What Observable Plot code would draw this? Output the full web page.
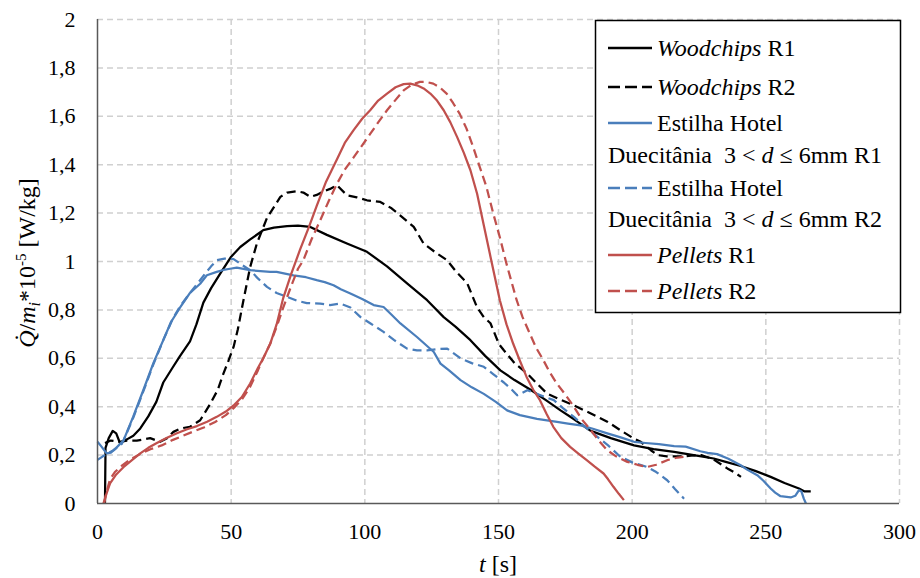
<!DOCTYPE html>
<html>
<head>
<meta charset="utf-8">
<script src="https://cdn.jsdelivr.net/npm/d3@7"></script>
<script src="https://cdn.jsdelivr.net/npm/@observablehq/plot@0.6"></script>
<style>
  html, body { margin: 0; padding: 0; background: #fff; }
  #chart { width: 920px; height: 578px; }
</style>
</head>
<body>
<div id="chart"></div>
<script>
// ---- tick values ----
const xTicks = [0, 50, 100, 150, 200, 250, 300];
const yTicks = [0, 0.2, 0.4, 0.6, 0.8, 1, 1.2, 1.4, 1.6, 1.8, 2];

// ---- Woodchips R1 ----
const wcR1_t = [2.8, 3.0, 4.2, 5.7, 7.0, 8.4, 11, 13.4, 16, 19, 22, 24.6, 28, 30.9, 34.6, 37, 39.6, 42.5, 45.9, 50, 53.4, 57, 62, 66, 70.9, 75, 79.6, 85.8, 93.3, 100.8, 108.3, 115.8, 123.3, 129.5, 134, 139.5, 145, 150.7, 156, 162, 168, 173.2, 178, 184.5, 192, 200.7, 208, 215.7, 223, 230.5, 235, 240.6, 246, 251.8, 257, 262.4, 264.5, 266.8];
const wcR1_v = [0, 0.23, 0.27, 0.30, 0.29, 0.25, 0.265, 0.28, 0.31, 0.36, 0.42, 0.50, 0.56, 0.61, 0.67, 0.74, 0.83, 0.89, 0.95, 1.02, 1.06, 1.09, 1.13, 1.14, 1.146, 1.148, 1.143, 1.11, 1.074, 1.04, 0.98, 0.91, 0.84, 0.77, 0.73, 0.675, 0.61, 0.55, 0.51, 0.47, 0.425, 0.385, 0.35, 0.30, 0.27, 0.24, 0.225, 0.213, 0.2, 0.186, 0.172, 0.155, 0.135, 0.11, 0.085, 0.062, 0.05, 0.05];

// ---- Woodchips R2 ----
const wcR2_t = [2.8, 5, 8.4, 11, 14.7, 19.7, 23.4, 26, 28.4, 31, 34.6, 38.4, 42.1, 45, 47.1, 49, 50.9, 52.5, 54.6, 57.1, 59.6, 63.4, 68.4, 71, 74.6, 77, 79.6, 82, 84.6, 87, 89.6, 93.3, 97, 100.8, 105.8, 110, 113.3, 118.3, 122, 127, 130.8, 134, 138.3, 142, 144.5, 147, 150.1, 152, 156, 160.8, 164, 168.2, 173, 178.2, 184, 190.7, 196, 200.7, 203.2, 207, 209.5, 213, 215.7, 219.3, 222, 225.8, 230, 235.6, 238, 240.7];
const wcR2_v = [0.25, 0.26, 0.255, 0.26, 0.26, 0.27, 0.255, 0.27, 0.296, 0.31, 0.317, 0.344, 0.41, 0.47, 0.537, 0.59, 0.647, 0.72, 0.84, 0.977, 1.074, 1.18, 1.267, 1.285, 1.29, 1.285, 1.267, 1.275, 1.29, 1.30, 1.315, 1.274, 1.265, 1.253, 1.246, 1.22, 1.19, 1.143, 1.074, 1.033, 1.005, 0.96, 0.91, 0.81, 0.77, 0.745, 0.66, 0.633, 0.58, 0.536, 0.50, 0.454, 0.43, 0.405, 0.375, 0.338, 0.30, 0.268, 0.255, 0.22, 0.20, 0.195, 0.195, 0.195, 0.198, 0.2, 0.185, 0.145, 0.13, 0.11];

// ---- Estilha Hotel Duecitânia R1 ----
const ehR1_t = [0, 1.5, 3.4, 5, 7, 9.7, 13.4, 17.2, 20.9, 24.6, 27.5, 30.9, 34.6, 38.4, 40.9, 44.6, 47.1, 49.6, 52.1, 57.1, 64.6, 67, 73.3, 78, 82, 85, 88.3, 91, 94.6, 99, 103.3, 107, 110, 113.3, 119.5, 125.8, 128.3, 131.5, 135.8, 140, 144.5, 149, 153.2, 158, 164.4, 171.9, 176, 180.7, 185, 190.7, 196, 200.7, 205, 210, 215.7, 220, 225.5, 228.2, 231.8, 236, 240.6, 243, 246.8, 249, 251.8, 253.5, 255.5, 259.3, 261, 262.4, 263.3, 264.2, 265];
const ehR1_v = [0.255, 0.235, 0.207, 0.21, 0.23, 0.26, 0.36, 0.47, 0.58, 0.675, 0.75, 0.81, 0.87, 0.908, 0.943, 0.957, 0.965, 0.97, 0.975, 0.964, 0.957, 0.957, 0.943, 0.935, 0.923, 0.915, 0.902, 0.885, 0.868, 0.845, 0.82, 0.812, 0.78, 0.744, 0.688, 0.626, 0.578, 0.55, 0.51, 0.48, 0.453, 0.42, 0.385, 0.365, 0.35, 0.337, 0.33, 0.323, 0.31, 0.29, 0.272, 0.255, 0.25, 0.245, 0.237, 0.235, 0.216, 0.209, 0.204, 0.185, 0.158, 0.14, 0.117, 0.095, 0.062, 0.045, 0.03, 0.025, 0.032, 0.055, 0.05, 0.02, 0];

// ---- Estilha Hotel Duecitânia R2 ----
const ehR2_t = [0, 2, 3.8, 6, 9, 9.7, 13.4, 17.2, 20.9, 24.6, 28, 30.9, 34.6, 37.5, 40.3, 42.5, 44.6, 47.5, 50.9, 53.5, 57.1, 60, 63.4, 67, 70.9, 74.6, 78.3, 83.3, 87, 90.8, 94.6, 98.3, 102, 107, 111, 115.8, 119.5, 123.3, 127, 130.8, 135.8, 140, 144.5, 148, 152, 155, 157, 160.8, 165, 170.7, 174, 178.2, 182, 187, 191, 195.6, 200, 205.6, 209, 213.1, 216, 219.4];
const ehR2_v = [0.18, 0.195, 0.207, 0.22, 0.245, 0.26, 0.355, 0.465, 0.575, 0.675, 0.76, 0.815, 0.87, 0.91, 0.95, 0.98, 1.005, 1.012, 1.01, 0.99, 0.964, 0.93, 0.895, 0.87, 0.854, 0.838, 0.828, 0.826, 0.82, 0.826, 0.81, 0.771, 0.745, 0.709, 0.675, 0.64, 0.633, 0.633, 0.638, 0.64, 0.6, 0.58, 0.565, 0.535, 0.50, 0.47, 0.447, 0.468, 0.45, 0.427, 0.395, 0.358, 0.32, 0.275, 0.24, 0.193, 0.17, 0.151, 0.13, 0.096, 0.06, 0.02];

// ---- Pellets R1 ----
const peR1_t = [2.2, 3.5, 4.7, 7, 9.7, 13, 16, 19, 22.2, 26, 29.7, 33.5, 37.2, 41, 44.6, 48, 50.9, 54, 57.1, 60, 62, 64.6, 67, 69.5, 72.5, 75.8, 79, 82, 85.5, 89.5, 92.5, 95.8, 99, 102, 105, 108.3, 111.5, 114.5, 117, 119.5, 122, 124.5, 127, 129.5, 132, 134.5, 137, 139.5, 142, 144.5, 147, 150.5, 153, 155.5, 158, 160.5, 163, 165.5, 168, 170.5, 173.5, 176.8, 180, 183, 186, 189.3, 191, 193, 195, 196.9];
const peR1_v = [0, 0.045, 0.083, 0.12, 0.15, 0.18, 0.207, 0.23, 0.25, 0.272, 0.29, 0.307, 0.32, 0.338, 0.358, 0.38, 0.405, 0.44, 0.496, 0.56, 0.60, 0.66, 0.74, 0.85, 0.95, 1.05, 1.14, 1.23, 1.33, 1.42, 1.49, 1.543, 1.59, 1.625, 1.665, 1.694, 1.72, 1.733, 1.735, 1.728, 1.715, 1.694, 1.665, 1.625, 1.575, 1.515, 1.45, 1.377, 1.28, 1.15, 1.02, 0.84, 0.74, 0.66, 0.59, 0.523, 0.47, 0.427, 0.37, 0.317, 0.27, 0.234, 0.205, 0.179, 0.152, 0.124, 0.10, 0.069, 0.04, 0.014];

// ---- Pellets R2 ----
const peR2_t = [2.5, 3.2, 4.7, 6.5, 9, 12, 16, 20, 24, 28, 32, 36, 40, 44, 48, 51, 54, 57, 60, 62, 64.6, 67, 69.5, 72.5, 75, 77, 80, 83.3, 86.5, 89.5, 92.5, 95.8, 99, 102, 105, 108.3, 111.5, 114.5, 117.5, 120.6, 123, 125.6, 128, 130.6, 133, 135.5, 138, 140.5, 143, 145.5, 148, 150.5, 153, 156.8, 159, 161.8, 164, 166.8, 169, 171.8, 175, 178.2, 181, 184.5, 187.5, 190.7, 194, 198.2, 202, 205.6, 209, 213.1, 217, 220.6];
const peR2_v = [0, 0.04, 0.1, 0.13, 0.155, 0.18, 0.205, 0.225, 0.24, 0.262, 0.28, 0.298, 0.315, 0.337, 0.365, 0.395, 0.43, 0.48, 0.55, 0.60, 0.66, 0.73, 0.81, 0.90, 0.97, 1.005, 1.09, 1.17, 1.25, 1.32, 1.38, 1.43, 1.48, 1.527, 1.575, 1.625, 1.668, 1.707, 1.73, 1.742, 1.742, 1.735, 1.72, 1.694, 1.655, 1.61, 1.55, 1.474, 1.39, 1.308, 1.2, 1.10, 0.99, 0.84, 0.77, 0.70, 0.645, 0.592, 0.545, 0.496, 0.45, 0.40, 0.35, 0.303, 0.26, 0.22, 0.195, 0.172, 0.16, 0.151, 0.16, 0.179, 0.19, 0.195];

// ---- series definitions ----
const BLACK = "#000000", BLUE = "#4a7ebb", RED = "#c0504d";
const DASH = "9,5";
const series = [
  {t: wcR1_t, v: wcR1_v, color: BLACK, dash: null},
  {t: wcR2_t, v: wcR2_v, color: BLACK, dash: DASH},
  {t: ehR1_t, v: ehR1_v, color: BLUE, dash: null},
  {t: ehR2_t, v: ehR2_v, color: BLUE, dash: DASH},
  {t: peR1_t, v: peR1_v, color: RED, dash: null},
  {t: peR2_t, v: peR2_v, color: RED, dash: DASH}
];

const FONT = "Liberation Serif, Times New Roman, serif";
const fmt = d => String(d).replace(".", ",");

const lineMarks = series.map(s =>
  Plot.line(s.t.map((t, i) => ({t, v: s.v[i]})), {
    x: "t", y: "v", stroke: s.color, strokeWidth: 2.25,
    strokeDasharray: s.dash, strokeLinejoin: "round", strokeLinecap: "butt"
  })
);

const chart = Plot.plot({
  width: 920,
  height: 578,
  marginLeft: 97,
  marginRight: 21,
  marginTop: 19,
  marginBottom: 75,
  style: {fontFamily: FONT, fontSize: "22px", color: "#000", background: "#fff"},
  x: {domain: [0, 300]},
  y: {domain: [0, 2]},
  marks: [
    Plot.gridX(xTicks.filter(d => d > 0), {stroke: "#d0d0d0", strokeOpacity: 1, strokeWidth: 1.5, strokeDasharray: "6,4"}),
    Plot.gridY(yTicks.filter(d => d > 0), {stroke: "#d0d0d0", strokeOpacity: 1, strokeWidth: 1.5, strokeDasharray: "6,4"}),
    ...lineMarks,
    Plot.ruleX([0], {stroke: "#595959", strokeWidth: 1.5}),
    Plot.ruleY([0], {stroke: "#595959", strokeWidth: 1.5}),
    Plot.axisX(xTicks, {tickSize: 0, tickPadding: 20, label: null, fontSize: 22, fontFamily: FONT, tickFormat: fmt}),
    Plot.axisY(yTicks, {tickSize: 0, tickPadding: 22, label: null, fontSize: 22, fontFamily: FONT, tickFormat: fmt})
  ]
});

document.getElementById("chart").appendChild(chart);

// ---- axis titles and legend (added to the SVG) ----
const svg = d3.select(chart);

const yl = svg.append("text")
  .attr("transform", "translate(35,263) rotate(-90)")
  .attr("text-anchor", "middle")
  .attr("font-family", FONT)
  .attr("font-size", 24)
  .attr("fill", "#000");
yl.append("tspan").attr("font-style", "italic").text("Q\u0307");
yl.append("tspan").text("/");
yl.append("tspan").attr("font-style", "italic").text("m");
yl.append("tspan").attr("font-style", "italic").attr("font-size", 16).attr("dy", 5).text("i");
yl.append("tspan").attr("dy", -5).text("*10");
yl.append("tspan").attr("font-size", 15).attr("dy", -9).text("-5");
yl.append("tspan").attr("dy", 9).text(" [W/kg]");

const xl = svg.append("text")
  .attr("x", 498).attr("y", 572)
  .attr("text-anchor", "middle")
  .attr("font-family", FONT)
  .attr("font-size", 24)
  .attr("fill", "#000");
xl.append("tspan").attr("font-style", "italic").text("t");
xl.append("tspan").text(" [s]");

// legend
const legendRows = [
  {y: 48,  color: BLACK, dash: null, parts: [["Woodchips", true], [" R1", false]]},
  {y: 87,  color: BLACK, dash: DASH, parts: [["Woodchips", true], [" R2", false]]},
  {y: 123, color: BLUE,  dash: null, parts: [["Estilha Hotel", false]]},
  {y: 155, color: null,  dash: null, parts: [["Duecitânia\u00a0 3 < ", false], ["d", true], [" ≤ 6mm R1", false]]},
  {y: 188, color: BLUE,  dash: DASH, parts: [["Estilha Hotel", false]]},
  {y: 219, color: null,  dash: null, parts: [["Duecitânia\u00a0 3 < ", false], ["d", true], [" ≤ 6mm R2", false]]},
  {y: 255, color: RED,   dash: null, parts: [["Pellets", true], [" R1", false]]},
  {y: 291, color: RED,   dash: DASH, parts: [["Pellets", true], [" R2", false]]}
];

const lg = svg.append("g").attr("text-anchor", "start");
lg.append("rect")
  .attr("x", 595.5).attr("y", 20.5).attr("width", 305).attr("height", 292)
  .attr("fill", "#fff").attr("stroke", "#000").attr("stroke-width", 1.5);

legendRows.forEach(r => {
  let tx = 608;
  if (r.color) {
    lg.append("line")
      .attr("x1", 608).attr("x2", 652).attr("y1", r.y).attr("y2", r.y)
      .attr("stroke", r.color).attr("stroke-width", 2.5)
      .attr("stroke-dasharray", r.dash ? "12,5" : null);
    tx = 657;
  }
  const t = lg.append("text")
    .attr("x", tx).attr("y", r.y + 8)
    .attr("text-anchor", "start")
    .attr("font-family", FONT).attr("font-size", 24).attr("fill", "#000")
    .attr("xml:space", "preserve");
  r.parts.forEach(([s, it]) => {
    t.append("tspan").attr("font-style", it ? "italic" : "normal").text(s);
  });
});
</script>
</body>
</html>
